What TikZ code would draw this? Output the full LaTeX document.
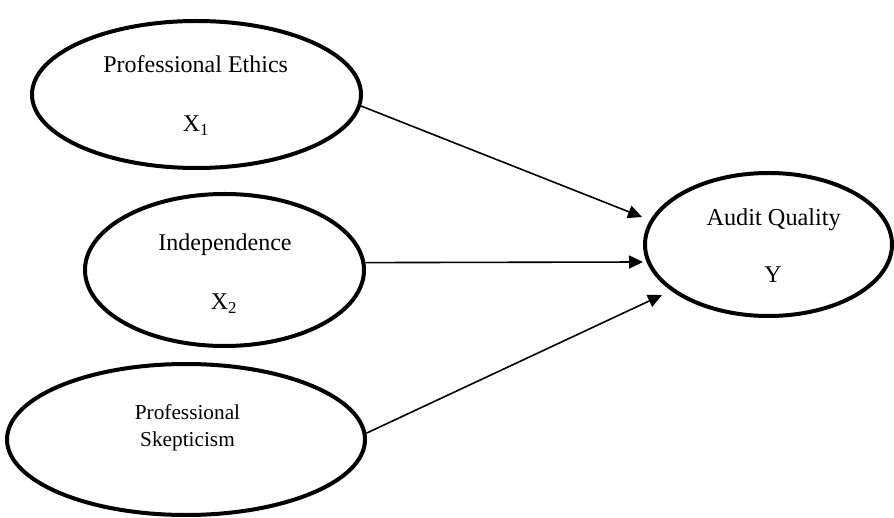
\documentclass[tikz,border=0pt]{standalone}
\usepackage{fontspec}
\setmainfont{Liberation Serif}
\usetikzlibrary{shapes.geometric,arrows.meta}
\begin{document}
\begin{tikzpicture}[x=1pt,y=-1pt,
  latent/.style={ellipse,draw,line width=4pt,inner sep=0pt},
  lbl/.style={anchor=base,inner sep=0pt},
  conn/.style={line width=1.6pt,-{Triangle[length=14pt,width=13pt]}}]
\useasboundingbox (0,0) rectangle (894,518);
% ellipses
\node[latent,minimum width=329pt,minimum height=147pt] (e1) at (196.5,94.5) {};
\node[latent,minimum width=279pt,minimum height=152pt] (e2) at (224.5,270) {};
\node[latent,minimum width=358pt,minimum height=151pt] (e3) at (186,439.5) {};
\node[latent,minimum width=247pt,minimum height=143pt] (e4) at (768.5,244.5) {};
% labels
\node[lbl,font=\fontsize{24}{28}\selectfont] (l1) at (195.7,72.7) {Professional Ethics};
\node[lbl,font=\fontsize{24}{28}\selectfont] (l1x) at (196,131.7) {X\textsubscript{1}};
\node[lbl,font=\fontsize{24}{28}\selectfont] (l2) at (225,251) {Independence};
\node[lbl,font=\fontsize{24}{28}\selectfont] (l2x) at (224,310) {X\textsubscript{2}};
\node[lbl,font=\fontsize{21.3}{26}\selectfont] (l3a) at (187.5,419) {Professional};
\node[lbl,font=\fontsize{21.3}{26}\selectfont] (l3b) at (187.5,446.7) {Skepticism};
\node[lbl,font=\fontsize{24.3}{28}\selectfont] (l4) at (773.7,225.7) {Audit Quality};
\node[lbl,font=\fontsize{24}{28}\selectfont] (l4y) at (773,283) {Y};
% arrow tips
\coordinate (t1) at (642,217);
\coordinate (t2) at (643,262);
\coordinate (t3) at (662,295);
\draw[conn] (e1.-4) -- (t1);
\draw[conn] (e2.3) -- (t2);
\draw[conn] (e3.2) -- (t3);
\end{tikzpicture}
\end{document}
